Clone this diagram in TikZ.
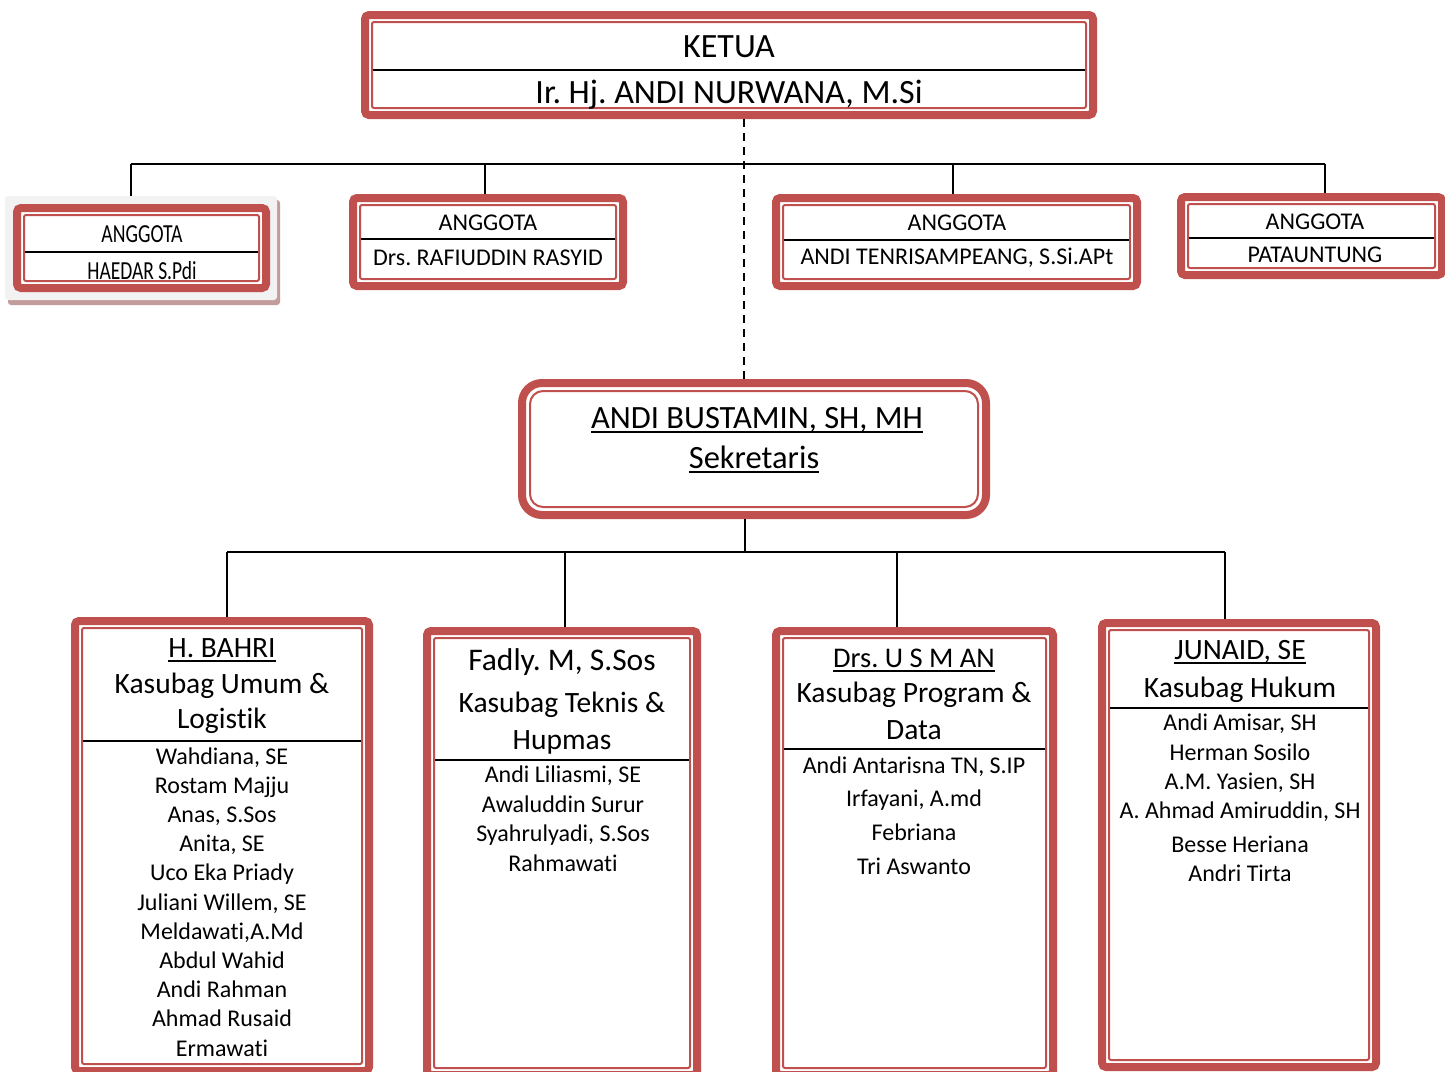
\documentclass[tikz,border=0pt]{standalone}
\usepackage{fontspec}
\setmainfont[Ligatures={NoCommon}]{Carlito}
\usepackage{graphicx}
\usetikzlibrary{fit}
\definecolor{boxred}{HTML}{C0504D}
\definecolor{shadowc}{HTML}{C29B9B}
\definecolor{bgray}{HTML}{F2F2F2}
\newcommand\fsz[1]{\fontsize{#1}{#1}\selectfont}
\newcommand\ulx[1]{\setbox0\hbox{#1}\rlap{\rule[-0.16em]{\wd0}{0.065em}}#1}
\frenchspacing
\begin{document}
\begin{tikzpicture}[x=1pt,y=-1pt,
  frame/.style={draw=boxred, line width=8pt, rounded corners=4pt, fill=white, inner sep=0pt},
  inline/.style={draw=boxred, line width=2pt, rounded corners=2pt},
  divider/.style={draw=black, line width=2pt},
  conn/.style={draw=black, line width=2.5pt},
  dconn/.style={draw=black, line width=2.5pt, dash pattern=on 8pt off 6pt},
  txt/.style={anchor=base, inner sep=0pt, execute at begin node=\frenchspacing}]
\clip (0,0) rectangle (1445,1071);
\fill[white] (0,0) rectangle (1445,1071);

% ---------- KETUA ----------
\node[frame, fit={(365,15) (1093,115)}] (ketua) {};
\draw[inline] ([shift={(11,11)}]ketua.north west) rectangle ([shift={(-11,-11)}]ketua.south east);
\draw[divider] (373,70) -- (1085,70);
\node[txt, font=\fsz{34}] (ketuaT) at (729,57) {KETUA};
\node[txt, font=\fsz{34}] (ketuaN) at (729,103) {Ir. Hj. ANDI NURWANA, M.Si};

% ---------- ANGGOTA boxes ----------
\fill[shadowc, rounded corners=3pt] (8,200) rectangle (280,305);
\node[fill=bgray, rounded corners=3pt, inner sep=0pt, fit={(5,196) (277,300)}] (haedarbg) {};
\node[frame, fit={(17,208) (266,288)}] (haedar) {};
\draw[inline] ([shift={(11,11)}]haedar.north west) rectangle ([shift={(-11,-11)}]haedar.south east);
\draw[divider] (25,252) -- (258,252);
\node[txt, font=\fsz{26}] (haedarT) at (142,242) {\scalebox{0.76}[1]{ANGGOTA}};
\node[txt, font=\fsz{26}] (haedarN) at (142,279) {\scalebox{0.75}[1]{HAEDAR S.Pdi}};

\node[frame, fit={(353,198) (623,286)}] (raf) {};
\draw[inline] ([shift={(11,11)}]raf.north west) rectangle ([shift={(-11,-11)}]raf.south east);
\draw[divider] (361,239) -- (615,239);
\node[txt, font=\fsz{24}] (rafT) at (488,230) {ANGGOTA};
\node[txt, font=\fsz{24}] (rafN) at (488,265) {Drs. RAFIUDDIN RASYID};

\node[frame, fit={(776,198) (1137,286)}] (tenri) {};
\draw[inline] ([shift={(11,11)}]tenri.north west) rectangle ([shift={(-11,-11)}]tenri.south east);
\draw[divider] (784,240) -- (1129,240);
\node[txt, font=\fsz{24}] (tenriT) at (957,230) {ANGGOTA};
\node[txt, font=\fsz{24}] (tenriN) at (957,264) {ANDI TENRISAMPEANG, S.Si.APt};

\node[frame, fit={(1181,197) (1442,275)}] (pat) {};
\draw[inline] ([shift={(11,11)}]pat.north west) rectangle ([shift={(-11,-11)}]pat.south east);
\draw[divider] (1189,238) -- (1434,238);
\node[txt, font=\fsz{24}] (patT) at (1315,229) {ANGGOTA};
\node[txt, font=\fsz{24}] (patN) at (1315,262) {PATAUNTUNG};

% ---------- SEKRETARIS ----------
\node[frame, rounded corners=20pt, fit={(522,383) (986,515)}] (sek) {};
\draw[inline, rounded corners=13pt] ([shift={(12,12)}]sek.north west) rectangle ([shift={(-12,-12)}]sek.south east);
\node[txt, font=\fsz{32.5}] (sekN) at (757,428) {\ulx{ANDI BUSTAMIN, SH, MH}};
\node[txt, font=\fsz{32.5}] (sekT) at (754,468) {\ulx{Sekretaris}};

% ---------- Bottom boxes ----------
\node[frame, fit={(75,621) (369,1071)}] (b1) {};
\draw[inline] ([shift={(11,11)}]b1.north west) rectangle ([shift={(-11,-11)}]b1.south east);
\draw[divider] (83,741) -- (361,741);
\node[txt, font=\fsz{29.5}] (b1a) at (222,657) {\ulx{H. BAHRI}};
\node[txt, font=\fsz{29.5}] (b1b) at (222,693) {Kasubag Umum \&};
\node[txt, font=\fsz{29.5}] (b1c) at (222,728) {Logistik};
\foreach \t [count=\i] in {{Wahdiana, SE},{Rostam Majju},{Anas, S.Sos},{Anita, SE},{Uco Eka Priady},{Juliani Willem, SE},{Meldawati,A.Md},{Abdul Wahid},{Andi Rahman},{Ahmad Rusaid},{Ermawati}}
  \node[txt, font=\fsz{24}] (b1n\i) at (222,{764+29.2*(\i-1)}) {\t};

\node[frame, fit={(427,631) (697,1075)}] (b2) {};
\draw[inline] ([shift={(11,11)}]b2.north west) rectangle ([shift={(-11,-11)}]b2.south east);
\draw[divider] (435,760) -- (689,760);
\node[txt, font=\fsz{31.5}] (b2a) at (562,670) {Fadly. M, S.Sos};
\node[txt, font=\fsz{29.5}] (b2b) at (562,712) {Kasubag Teknis \&};
\node[txt, font=\fsz{29.5}] (b2c) at (562,749) {Hupmas};
\foreach \t/\yy [count=\i] in {{Andi Liliasmi, SE}/782,{Awaluddin Surur}/812,{Syahrulyadi, S.Sos}/841,{Rahmawati}/871}
  \node[txt, font=\fsz{24}] (b2n\i) at (563,\yy) {\t};

\node[frame, fit={(776,631) (1053,1075)}] (b3) {};
\draw[inline] ([shift={(11,11)}]b3.north west) rectangle ([shift={(-11,-11)}]b3.south east);
\draw[divider] (784,749) -- (1045,749);
\node[txt, font=\fsz{28.5}] (b3a) at (914,667) {\ulx{Drs. U S M AN}};
\node[txt, font=\fsz{29.5}] (b3b) at (914,702) {Kasubag Program \&};
\node[txt, font=\fsz{29.5}] (b3c) at (914,739) {Data};
\foreach \t/\yy [count=\i] in {{Andi Antarisna TN, S.IP}/773,{Irfayani, A.md}/806,{Febriana}/840,{Tri Aswanto}/874}
  \node[txt, font=\fsz{24}] (b3n\i) at (914,\yy) {\t};

\node[frame, fit={(1102,623) (1376,1067)}] (b4) {};
\draw[inline] ([shift={(11,11)}]b4.north west) rectangle ([shift={(-11,-11)}]b4.south east);
\draw[divider] (1110,708) -- (1368,708);
\node[txt, font=\fsz{29.5}] (b4a) at (1240,659) {\ulx{JUNAID, SE}};
\node[txt, font=\fsz{29.5}] (b4b) at (1240,697) {Kasubag Hukum};
\foreach \t/\yy [count=\i] in {{Andi Amisar, SH}/730,{Herman Sosilo}/760,{A.M. Yasien, SH}/789,{A. Ahmad Amiruddin, SH}/818,{Besse Heriana}/852,{Andri Tirta}/881}
  \node[txt, font=\fsz{24}] (b4n\i) at (1240,\yy) {\t};

% ---------- Connectors ----------
\coordinate (busTL) at (131,164);
\coordinate (busT2) at (485,164);
\coordinate (busT3) at (953,164);
\coordinate (busTR) at (1325,164);
\draw[conn] (busTL) -- (busTR);
\draw[conn] (busTL) -- (busTL |- haedarbg.north);
\draw[conn] (busT2) -- (busT2 |- raf.north);
\draw[conn] (busT3) -- (busT3 |- tenri.north);
\draw[conn] (busTR) -- (busTR |- pat.north);
\draw[dconn] ([xshift=15pt]ketua.south) -- ([xshift=15pt]ketua.south |- sek.north);

\coordinate (busBL) at (227,552);
\coordinate (busB2) at (565,552);
\coordinate (busB3) at (897,552);
\coordinate (busBR) at (1225,552);
\draw[conn] ([xshift=-9pt]sek.south) -- ([xshift=-9pt]sek.south |- busBL);
\draw[conn] (busBL) -- (busBR);
\draw[conn] (busBL) -- (busBL |- b1.north);
\draw[conn] (busB2) -- (busB2 |- b2.north);
\draw[conn] (busB3) -- (busB3 |- b3.north);
\draw[conn] (busBR) -- (busBR |- b4.north);
\end{tikzpicture}
\end{document}
